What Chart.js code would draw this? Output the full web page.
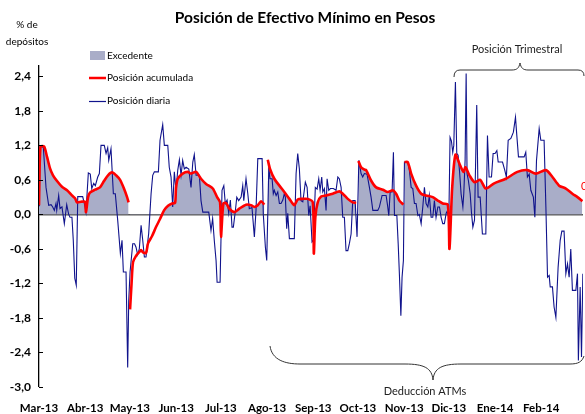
<!DOCTYPE html>
<html>
<head>
<meta charset="utf-8">
<script src="https://cdn.jsdelivr.net/npm/chart.js@4"></script>
<style>
  body { margin:0; background:#fff; }
  #wrap { width:585px; height:414px; position:relative; }
</style>
</head>
<body>
<div id="wrap"><canvas id="chart"></canvas></div>
<script>
// days counted from 1 Mar 2013
const monthDays = [0,31,61,92,122,153,184,214,245,275,306,337];
const monthLabels = ["Mar-13","Abr-13","May-13","Jun-13","Jul-13","Ago-13","Sep-13","Oct-13","Nov-13","Dic-13","Ene-14","Feb-14"];
const yTicks = [-3.0,-2.4,-1.8,-1.2,-0.6,0.0,0.6,1.2,1.8,2.4];

// Posición diaria
const dailyDays = [0.2,0.7,2.9,4.7,6.5,8.1,9.2,10.3,11.4,11.9,13.2,14.1,15.4,17.0,18.6,19.9,20.8,22.1,23.0,24.0,25.0,26.0,29.3,30.4,31.5,33.1,34.4,35.4,36.7,37.8,39.4,40.5,41.6,43.8,45.0,46.1,46.8,48.3,49.9,51.2,52.8,54.6,55.7,56.6,58.4,59.5,60.2,61.1,62.9,64.1,65.1,66.2,67.3,68.5,69.6,70.7,71.8,73.6,75.2,76.3,77.4,80.1,81.2,83.0,84.1,86.4,87.4,88.6,89.7,90.8,91.9,93.1,94.2,95.3,96.4,97.5,98.7,100.5,102.0,103.2,104.2,105.4,107.6,108.7,109.9,113.9,115.4,116.5,117.6,118.8,119.5,121.5,122.8,124.0,125.0,126.2,127.3,128.4,129.5,130.4,131.7,132.7,134.0,135.6,136.7,137.4,138.9,140.1,141.1,142.9,144.5,145.6,146.8,149.7,150.5,151.9,152.8,154.2,155.0,156.4,157.2,157.9,159.1,160.2,161.3,162.4,163.6,164.6,165.3,166.2,166.9,168.0,171.3,172.5,173.6,174.7,175.8,177.0,178.7,179.9,181.0,181.9,183.2,184.1,185.4,186.6,187.7,188.6,189.7,190.4,191.5,192.6,193.3,194.4,195.5,197.5,199.3,200.5,201.5,202.7,203.8,204.9,206.0,207.2,208.3,209.4,210.5,212.1,213.4,214.6,216.1,217.2,218.3,220.1,221.7,222.8,224.0,227.3,228.4,230.2,232.9,234.0,234.7,235.6,236.9,237.8,238.5,240.1,241.0,241.8,242.8,243.6,244.5,245.2,247.4,248.5,249.7,250.8,251.9,253.0,254.2,255.2,256.4,257.5,258.6,259.7,260.9,261.9,263.1,264.2,265.3,266.4,267.6,268.7,269.8,270.9,272.0,273.2,273.8,275.0,275.8,276.7,277.6,278.3,279.4,280.3,281.2,282.1,283.2,284.4,285.0,285.9,286.6,287.2,288.1,289.3,290.2,291.1,292.2,293.7,294.6,296.0,297.5,299.8,300.9,302.0,303.6,304.7,306.0,307.2,308.1,311.0,312.5,313.6,314.8,316.6,318.3,319.7,320.6,321.7,325.5,326.6,327.7,328.9,330.0,331.7,332.7,333.8,335.6,336.7,338.9,340.1,341.2,342.3,343.0,344.5,345.6,346.8,348.3,349.7,350.8,352.3,353.5,354.6,355.7,356.8,357.9,360.2,361.3,361.9,363.1,364.0,364.9];
const dailyValues = [0.14,1.18,1.17,0.47,0.16,0.17,0.13,0.07,0.19,0.07,0.33,0.1,0.13,-0.16,0.17,0.0,-0.05,-0.05,-0.45,-1.11,-1.23,0.31,0.31,0.19,0.04,0.72,0.7,0.45,0.54,0.5,0.65,0.71,1.2,1.2,1.06,1.16,0.94,1.14,0.36,0.36,-0.1,-0.68,-0.45,-1.0,-1.0,-2.66,-1.5,-1.0,-0.51,-0.51,-0.57,-0.7,-0.6,-0.19,-0.45,-0.74,-0.74,-0.33,0.36,0.68,0.74,0.74,1.29,1.56,1.2,1.2,0.82,0.65,0.13,0.74,0.42,0.77,0.95,0.68,0.94,0.79,0.82,0.79,0.47,0.91,1.04,0.68,0.68,0.24,0.04,0.04,-0.28,-0.07,-0.45,-0.8,-1.18,-1.18,0.42,0.5,0.19,0.25,0.02,0.25,-0.22,-0.22,0.05,0.3,0.24,0.3,0.5,0.24,0.62,0.36,0.1,0.12,-0.39,0.07,0.97,0.97,0.0,-0.57,-0.8,0.82,0.62,0.62,0.36,0.42,0.33,0.39,0.19,0.19,0.25,0.36,0.3,-0.25,0.02,-0.42,-0.42,0.71,1.06,0.79,0.24,0.22,0.56,0.47,-0.02,0.15,-0.48,-0.45,0.47,0.44,0.62,0.42,0.65,0.39,0.45,0.07,0.62,0.42,0.45,0.45,0.42,0.65,0.62,0.47,-0.05,-0.05,-0.63,-0.63,-0.5,-0.34,0.24,0.24,-0.39,0.94,0.71,0.65,0.71,0.7,0.47,0.3,0.07,0.07,0.13,0.33,0.33,0.13,-0.02,0.39,0.39,1.08,-0.02,-0.02,-0.51,-1.03,-1.76,-1.09,-0.8,0.91,0.91,0.77,0.47,0.45,0.19,0.19,-0.02,0.0,-0.16,0.13,0.47,0.19,0.13,0.33,-0.05,-0.05,0.24,-0.05,0.13,0.13,-0.05,-0.16,-0.16,0.02,0.05,-0.05,1.34,1.28,1.08,1.2,2.3,1.06,1.03,0.77,0.36,0.13,0.36,0.94,2.45,0.71,0.59,0.36,0.02,-0.22,-0.1,1.9,0.3,0.3,-0.34,-0.34,1.37,0.65,0.65,1.06,1.06,1.11,0.91,0.91,0.77,0.65,1.29,1.32,1.43,1.69,1.37,1.0,1.0,1.08,0.65,0.7,0.42,0.3,-0.05,0.94,1.49,1.29,1.29,0.13,-1.09,-1.06,-1.26,-1.26,-1.61,-1.79,-0.92,-0.45,-0.29,-0.29,-1.03,-0.86,-1.09,-0.6,-1.32,-1.32,-1.03,-2.54,-1.26,-2.48,-1.03];

// Posición acumulada (null = corte entre periodos)
const accumDays = [0,1.0,3.4,5.4,7.4,9.4,12.1,15.4,18.8,22.1,24.2,25.5,28.2,30.9,31.5,32.9,34.2,37.6,40.9,43.6,46.3,49.0,51.7,54.4,57.0,59.1,60.1,60.6,61.1,62.1,63.1,65.1,67.1,68.5,69.8,71.8,73.2,75.8,78.5,81.2,83.9,86.6,89.3,91.3,91.9,93.1,96.4,99.8,102,105.4,108.7,112.1,116.6,119.5,121.5,122.1,123.7,125.5,127.7,131.1,134.4,138.9,142.3,144.5,146.8,149,151.2,152.3,153.5,155,157.9,161.3,164.6,168,171.3,173.6,177,180.3,183.7,184.4,185.4,187,189.3,192.6,197.1,201.5,203.8,207.2,210.5,212.8,213.5,214.3,216.1,218.3,219.5,222.8,226.2,230.7,234,237.4,239.6,241.8,244.5,244.8,245.2,247.4,249.7,253,256.4,259.7,264.2,267.6,270.9,274.3,275.4,277.2,279.4,282.1,284.8,286.1,288.8,292.2,296,299.8,305.4,313.2,321,327.7,333.3,340.1,344.5,349,353.5,357.9,361.3,364.6];
const accumValues = [0.16,1.18,1.18,1.0,0.8,0.68,0.58,0.48,0.42,0.33,0.28,0.21,0.22,0.22,0.04,0.3,0.38,0.43,0.47,0.58,0.68,0.73,0.68,0.6,0.45,0.3,0.21,null,-1.65,-1.2,-0.83,-0.72,-0.66,-0.62,-0.66,-0.67,-0.5,-0.38,-0.22,-0.08,0.07,0.15,0.19,0.2,0.45,0.62,0.71,0.74,0.71,0.74,0.62,0.53,0.45,0.3,0.21,-0.39,0.19,0.2,0.1,0.04,0.1,0.17,0.16,0.13,0.16,0.23,0.17,null,0.95,0.79,0.62,0.5,0.39,0.27,0.16,0.26,0.27,0.27,0.21,-0.68,-0.05,0.21,0.31,0.33,0.36,0.4,0.36,0.27,0.21,0.2,null,0.93,0.82,0.78,0.77,0.59,0.47,0.43,0.39,0.42,0.36,0.24,0.17,null,0.91,0.91,0.71,0.5,0.36,0.33,0.3,0.24,0.19,0.17,-0.6,0.45,1.04,0.88,0.74,0.82,0.68,0.56,0.6,0.45,0.54,0.62,0.74,0.77,0.71,0.77,0.65,0.5,0.45,0.36,0.3,0.23];

const FONT = "Lato, 'Open Sans', sans-serif";
const fillColor = "#a9adc8";

const decor = {
  id: "decor",
  afterDraw(chart) {
    const c = chart.ctx, y = chart.scales.y, area = chart.chartArea;
    c.save();
    // ticks hacia dentro
    c.strokeStyle = "#000"; c.lineWidth = 1;
    yTicks.forEach(v => {
      const py = Math.round(y.getPixelForValue(v)) + 0.5;
      c.beginPath(); c.moveTo(area.left, py); c.lineTo(area.left + 4, py); c.stroke();
    });
    // título
    c.fillStyle = "#000"; c.textAlign = "center"; c.textBaseline = "middle";
    c.font = "bold 15.5px " + FONT;
    c.fillText("Posición de Efectivo Mínimo en Pesos", 305, 18);
    c.font = "10px " + FONT;
    c.fillText("% de", 27, 25);
    c.fillText("depósitos", 27, 42);
    // leyenda
    c.textAlign = "left";
    c.fillStyle = fillColor; c.fillRect(90, 51, 15, 9);
    c.fillStyle = "#000"; c.fillText("Excedente", 107, 56);
    c.strokeStyle = "#ff0000"; c.lineWidth = 2.5;
    c.beginPath(); c.moveTo(89, 78); c.lineTo(106, 78); c.stroke();
    c.fillText("Posición acumulada", 107, 78);
    c.strokeStyle = "#10138c"; c.lineWidth = 1.2;
    c.beginPath(); c.moveTo(89, 101.5); c.lineTo(106, 101.5); c.stroke();
    c.fillText("Posición diaria", 107, 101);
    // llave superior
    c.strokeStyle = "#333"; c.lineWidth = 1;
    c.beginPath();
    c.moveTo(454, 77); c.quadraticCurveTo(454, 70, 460, 70);
    c.lineTo(512, 70); c.bezierCurveTo(517, 70, 519, 68, 520, 63);
    c.bezierCurveTo(521, 68, 523, 70, 528, 70);
    c.lineTo(578, 70); c.quadraticCurveTo(584, 70, 584, 76);
    c.stroke();
    c.fillStyle = "#222"; c.textAlign = "center"; c.font = "11px " + FONT;
    c.fillText("Posición Trimestral", 517, 49);
    // llave inferior
    c.beginPath();
    c.moveTo(270, 346); c.bezierCurveTo(272, 360, 285, 364, 300, 364);
    c.lineTo(405, 364); c.bezierCurveTo(424, 364, 432, 368, 433, 380);
    c.bezierCurveTo(434, 368, 442, 364, 461, 364);
    c.lineTo(570, 364); c.bezierCurveTo(578, 364, 582, 362, 584, 356);
    c.stroke();
    c.fillText("Deducción ATMs", 425, 391);
    // etiqueta final cortada
    c.fillStyle = "#ff0000"; c.textAlign = "left";
    c.fillText("0,23", 581, 186);
    c.restore();
  }
};

new Chart(document.getElementById("chart"), {
  type: "line",
  data: {
    datasets: [
      {
        label: "Posición acumulada",
        data: accumDays.map((d, i) => ({ x: d, y: accumValues[i] })),
        borderColor: "#ff0000", borderWidth: 2.6, pointRadius: 0, tension: 0.25,
        spanGaps: false,
        fill: { target: "origin", above: fillColor, below: "rgba(0,0,0,0)" }
      },
      {
        label: "Posición diaria",
        data: dailyDays.map((d, i) => ({ x: d, y: dailyValues[i] })),
        borderColor: "#10138c", borderWidth: 1.1, pointRadius: 0, tension: 0, fill: false
      }
    ]
  },
  options: {
    responsive: true, maintainAspectRatio: false, animation: false,
    layout: { padding: { top: 66, right: 2, left: 0, bottom: 0 } },
    plugins: {
      legend: { display: false }, tooltip: { enabled: false },
      filler: { drawTime: "beforeDatasetsDraw" }
    },
    scales: {
      x: {
        type: "linear", min: 0, max: 365,
        afterBuildTicks: s => { s.ticks = monthDays.map(v => ({ value: v })); },
        afterFit: s => { s.height = 27; },
        grid: { display: false, drawTicks: false }, border: { display: false },
        ticks: {
          autoSkip: false, maxRotation: 0, padding: 14, color: "#000",
          font: { family: FONT, size: 11.5, weight: "bold" },
          callback: (v, i) => monthLabels[i]
        }
      },
      y: {
        min: -3.0, max: 2.58,
        afterBuildTicks: s => { s.ticks = yTicks.map(v => ({ value: v })); },
        afterFit: s => { s.width = 39; },
        border: { display: true, color: "#000", width: 1.3 },
        grid: {
          drawTicks: false,
          color: c => (c.tick && c.tick.value === 0) ? "#5a5a5a" : "rgba(0,0,0,0)",
          lineWidth: c => (c.tick && c.tick.value === 0) ? 1.6 : 0
        },
        ticks: {
          padding: 8, color: "#000",
          font: { family: FONT, size: 12, weight: "bold" },
          callback: v => v.toFixed(1).replace(".", ",")
        }
      }
    }
  },
  plugins: [decor]
});
</script>
</body>
</html>
